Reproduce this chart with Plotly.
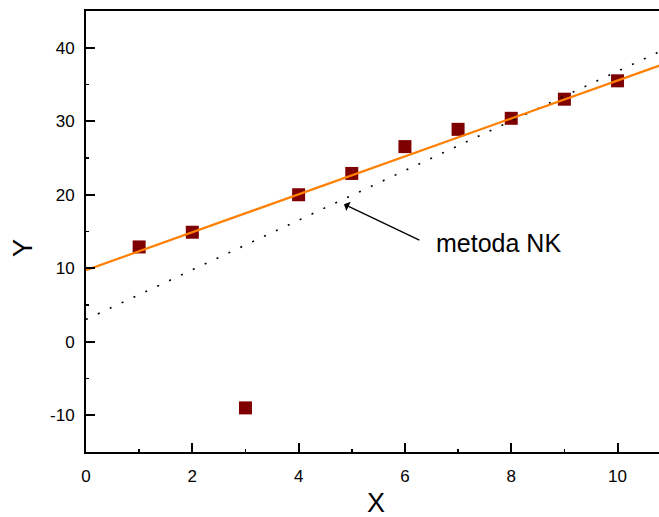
import plotly.graph_objects as go

# Data
x_pts = [1, 2, 3, 4, 5, 6, 7, 8, 9, 10]
y_pts = [12.9, 14.9, -9.0, 20.0, 22.9, 26.55, 28.9, 30.4, 33.0, 35.5]

# Fitted lines (endpoints)
line_x = [0, 10.8]
robust_y = [9.74, 37.6]      # orange line
ols_y = [3.03, 39.5]         # dotted line ("metoda NK")

x_ticks = [0, 2, 4, 6, 8, 10]
x_ticktext = ["0", "2", "4", "6", "8", "10"]
y_ticks = [-10, 0, 10, 20, 30, 40]
y_ticktext = ["-10", "0", "10", "20", "30", "40"]

FONT = "Liberation Sans, Arial, sans-serif"

W, H = 659, 517
L, T, B = 86, 11, 517 - 452
PW, PH = W - L, H - T - B

fig = go.Figure()
fig.add_trace(go.Scatter(x=x_pts, y=y_pts, mode="markers",
                         marker=dict(symbol="square", size=13, color="#7f0000",
                                     line=dict(width=0)),
                         showlegend=False, hoverinfo="skip"))
fig.add_trace(go.Scatter(x=line_x, y=ols_y, mode="lines",
                         line=dict(color="black", width=1.6, dash="2px,11.1px"),
                         showlegend=False, hoverinfo="skip"))
fig.add_trace(go.Scatter(x=line_x, y=robust_y, mode="lines",
                         line=dict(color="#ff7f00", width=2.2),
                         showlegend=False, hoverinfo="skip"))

axis_common = dict(showgrid=False, zeroline=False, showline=True,
                   linecolor="black", linewidth=2,
                   ticks="inside", ticklen=9, tickwidth=2, tickcolor="black",
                   tickfont=dict(family=FONT, size=17, color="black"),
                   automargin=False)

fig.update_xaxes(range=[0, 10.78], tickvals=x_ticks, ticktext=x_ticktext, mirror=True,
                 ticklabelstandoff=8, **axis_common)
fig.update_xaxes(minor=dict(dtick=1, tick0=0, ticks="inside", ticklen=3, tickwidth=1.5,
                            tickcolor="black"))
fig.update_yaxes(range=[-15, 45], tickvals=y_ticks, ticktext=y_ticktext,
                 ticklabelstandoff=6, **axis_common)
fig.update_yaxes(minor=dict(dtick=5, tick0=0, ticks="inside", ticklen=3,
                            tickwidth=1.5, tickcolor="black"))

# Arrow
fig.add_annotation(x=4.853, y=18.71, ax=6.30, ay=13.72, axref="x", ayref="y",
                   xref="x", yref="y", text="", showarrow=True,
                   arrowhead=1, arrowsize=1.3, arrowwidth=1.3, arrowcolor="black")
# Arrow label
fig.add_annotation(x=6.55, y=13.5, xref="x", yref="y", text="metoda NK",
                   showarrow=False, xanchor="left", yanchor="middle",
                   font=dict(family=FONT, size=25, color="black"))

# Axis titles (positions in window pixels converted to paper coords)
fig.add_annotation(x=(376 - 86) / PW, y=(452 - 503) / PH, xref="paper", yref="paper",
                   text="X", showarrow=False, xanchor="center", yanchor="middle",
                   font=dict(family=FONT, size=27, color="black"))
fig.add_annotation(x=(23 - 86) / PW, y=(452 - 248) / PH, xref="paper", yref="paper",
                   text="Y", showarrow=False, textangle=-90,
                   xanchor="center", yanchor="middle",
                   font=dict(family=FONT, size=27, color="black"))

fig.update_layout(width=W, height=H, autosize=False,
                  margin=dict(l=L, r=0, t=T, b=B, autoexpand=False),
                  paper_bgcolor="white", plot_bgcolor="white",
                  showlegend=False)

fig.write_html("out.html", config={"displayModeBar": False, "staticPlot": True},
               post_script="document.body.style.margin='0';"
                           "document.body.style.overflow='hidden';")
